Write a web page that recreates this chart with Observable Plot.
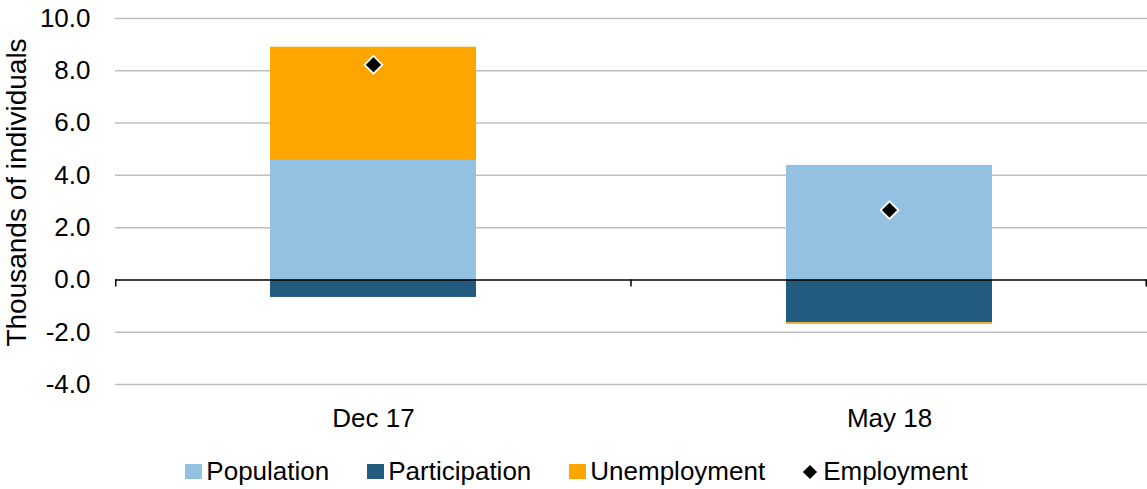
<!DOCTYPE html>
<html>
<head>
<meta charset="utf-8">
<script src="https://cdn.jsdelivr.net/npm/d3@7"></script>
<script src="https://cdn.jsdelivr.net/npm/@observablehq/plot@0.6"></script>
<style>
  html, body { margin: 0; padding: 0; background: #fff; }
  body { width: 1147px; height: 489px; overflow: hidden; font-family: "Liberation Sans", Arial, sans-serif; }
  #chart svg { display: block; }
  .legend { display: flex; justify-content: center; align-items: center; height: 39px; font-size: 26px; color: #000; margin-left: 6px; margin-top: 2px; }
  .legend .item { display: flex; align-items: center; margin: 0 19px; }
  .legend .sw { width: 17px; height: 15px; margin-right: 4px; }
  .legend .dia { width: 10px; height: 10px; background: #000; transform: rotate(45deg); margin-right: 8px; margin-left: 2px; }
</style>
</head>
<body>
<div id="chart"></div>
<div class="legend" id="legend"></div>
<script>
const categories = ["Dec 17", "May 18"];
const seriesNames = ["Population", "Participation", "Unemployment"];
const seriesColors = ["#92C1E1", "#235A80", "#FFA500"];
const population = [4.57, 4.38];
const participation = [-0.67, -1.64];
const unemployment = [4.33, -0.06];
const employment = [8.23, 2.67];
const yTicks = [-4, -2, 0, 2, 4, 6, 8, 10];
const yLabel = "Thousands of individuals";
const markerName = "Employment";

const seriesValues = [population, participation, unemployment];
const rows = [];
categories.forEach((c, i) => {
  seriesNames.forEach((s, j) => rows.push({category: c, series: s, value: seriesValues[j][i]}));
});
const empRows = categories.map((c, i) => ({category: c, value: employment[i]}));

const catTicks = (index, scales, values, dims) => {
  const L = dims.marginLeft, R = dims.width - dims.marginRight;
  const n = categories.length;
  const y0 = scales.y(0);
  const g = document.createElementNS("http://www.w3.org/2000/svg", "g");
  for (let i = 0; i <= n; i++) {
    const x = L + i * (R - L) / n - (i === n ? 0.75 : 0) + (i === 0 ? 0.75 : 0);
    const l = document.createElementNS("http://www.w3.org/2000/svg", "line");
    l.setAttribute("x1", x); l.setAttribute("x2", x);
    l.setAttribute("y1", y0); l.setAttribute("y2", y0 + 7);
    l.setAttribute("stroke", "#000"); l.setAttribute("stroke-width", 1.5);
    g.appendChild(l);
  }
  return g;
};

const plot = Plot.plot({
  width: 1147,
  height: 450,
  marginTop: 18,
  marginBottom: 66,
  marginLeft: 115,
  marginRight: 0,
  style: {fontFamily: "'Liberation Sans', Arial, sans-serif", fontSize: "26px", color: "#000", background: "#fff"},
  x: {domain: categories, paddingInner: 0.6, paddingOuter: 0.3, label: null},
  y: {domain: [-4, 10], label: null},
  color: {domain: seriesNames, range: seriesColors},
  marks: [
    Plot.ruleY(yTicks.filter(d => d !== 0), {stroke: "#bfbfbf", strokeWidth: 1.5}),
    Plot.barY(rows, {x: "category", y: "value", fill: "series"}),
    Plot.ruleY([0], {stroke: "#000", strokeWidth: 1.5}),
    catTicks,
    Plot.dot(empRows, {x: "category", y: "value", symbol: "diamond2", r: 8, fill: "#000", stroke: "#fff", strokeWidth: 1.8}),
    Plot.axisY({ticks: yTicks, tickSize: 0, tickPadding: 25, tickFormat: d => d.toFixed(1), label: null, fill: "#000"}),
    Plot.axisX({tickSize: 0, tickPadding: 24, label: null, fill: "#000"}),
    Plot.text([yLabel], {frameAnchor: "left", dx: -98, dy: -9, rotate: -90, fontSize: 28, fill: "#000", textAnchor: "middle", lineAnchor: "middle"})
  ]
});
document.getElementById("chart").appendChild(plot);

const legend = document.getElementById("legend");
seriesNames.forEach((s, i) => {
  const it = document.createElement("div"); it.className = "item";
  const sw = document.createElement("span"); sw.className = "sw"; sw.style.background = seriesColors[i];
  const t = document.createElement("span"); t.textContent = s;
  it.appendChild(sw); it.appendChild(t); legend.appendChild(it);
});
{
  const it = document.createElement("div"); it.className = "item";
  const sw = document.createElement("span"); sw.className = "dia";
  const t = document.createElement("span"); t.textContent = markerName;
  it.appendChild(sw); it.appendChild(t); legend.appendChild(it);
}
</script>
</body>
</html>
